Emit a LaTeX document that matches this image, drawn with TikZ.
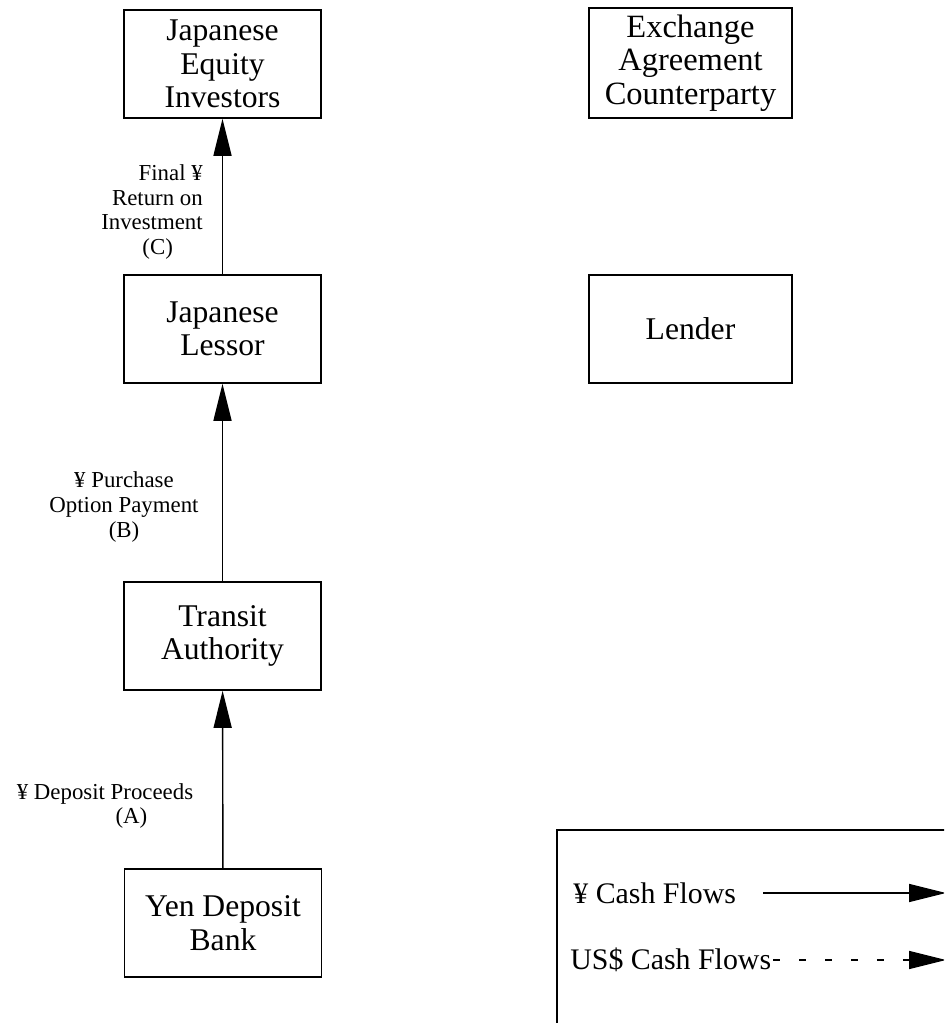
\documentclass[tikz,border=0pt]{standalone}
\usepackage{fontspec}
\setmainfont{Liberation Serif}
\usetikzlibrary{arrows.meta,positioning}

\begin{document}
\begin{tikzpicture}[x=0.02cm,y=-0.02cm,
  party/.style={draw, line width=0.9pt, minimum width=3.94cm, minimum height=2.16cm,
    align=center, inner sep=2pt, font=\fontsize{18}{19}\selectfont},
  flowlabel/.style={align=center, inner sep=0pt, font=\fontsize{13}{14}\selectfont},
  keylabel/.style={anchor=west, inner sep=0pt, font=\fontsize{17}{20}\selectfont},
  flow/.style={line width=0.8pt, -{Triangle[length=0.74cm,width=0.36cm]}}]
\clip (0,0) rectangle (944,1023);
% Parties, left column
\node[party] (investors) at (222.5,64) {Japanese\\Equity\\Investors};
\node[party] (lessor) at (222.5,329) {Japanese\\Lessor};
\node[party] (transit) at (222.5,636) {Transit\\Authority};
\node[party] (bank) at (223,923) {Yen Deposit\\Bank};
% Parties, right column
\node[party, minimum width=4.06cm, minimum height=2.2cm, font=\fontsize{18.5}{19}\selectfont]
  (counterparty) at (690.5,63) {Exchange\\Agreement\\Counterparty};
\node[party, minimum width=4.06cm] (lender) at (690.5,329) {Lender};
% Yen flows
\draw[flow] (bank) -- (transit);
\draw[flow] (transit) -- (lessor);
\draw[flow] (lessor) -- (investors);
\node[flowlabel] (labelA) at (105,806) {¥ Deposit Proceeds\\\hspace*{30pt}(A)};
\node[flowlabel] (labelB) at (124,507) {¥ Purchase\\Option Payment\\(B)};
\node[flowlabel, align=right] (labelC) at (152,212) {Final ¥\\Return on\\Investment\\(C)\hspace*{17pt}};
% Key
\draw[line width=0.9pt] (557,830) rectangle (990,1060);
\node[keylabel] (yenkey) at (573,893) {¥ Cash Flows};
\node[keylabel] (usdkey) at (570,960) {US\$ Cash Flows};
\coordinate (yenstart) at (763,893);
\coordinate (yenend) at (946,893);
\coordinate (usdstart) at (773,960);
\coordinate (usdend) at (946,960);
\draw[flow] (yenstart) -- (yenend);
\draw[flow, dash pattern=on 0.14cm off 0.38cm] (usdstart) -- (usdend);
\end{tikzpicture}
\end{document}
